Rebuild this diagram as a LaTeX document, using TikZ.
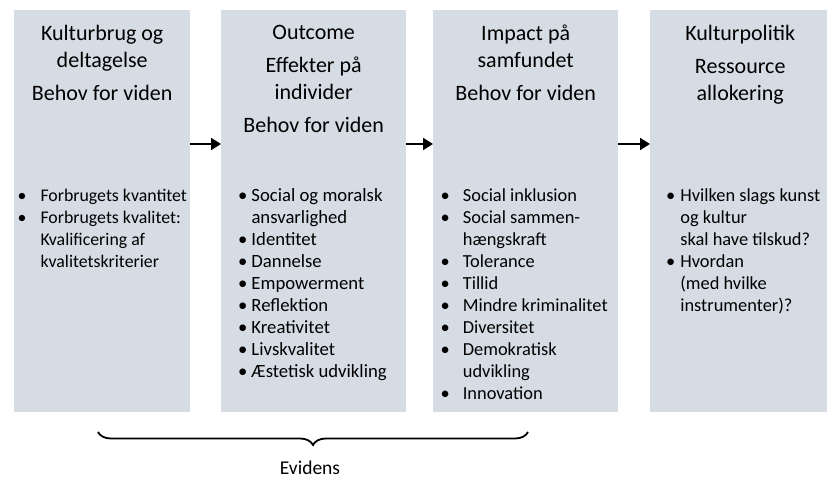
\documentclass[tikz,border=0pt]{standalone}
\usepackage{fontspec}
\setmainfont{Carlito}
\usetikzlibrary{positioning,arrows.meta,decorations.pathreplacing}

\definecolor{kassefarve}{RGB}{214,220,228}
\newcommand{\pkt}{\textbullet}

\tikzset{
  kasse/.style={fill=kassefarve, minimum height=402pt, inner sep=0pt, anchor=north west},
  titel/.style={align=center, inner sep=0pt, font=\fontsize{22}{27}\selectfont},
  punkter/.style={inner sep=0pt, font=\fontsize{18.4}{22}\selectfont},
  pil/.style={line width=2pt, -{Triangle[length=10pt,width=12pt]}}
}

\begin{document}
\begin{tikzpicture}[x=1pt,y=1pt]
  \useasboundingbox (0,0) rectangle (827,479);

  %% the four columns
  \node[kasse, minimum width=176pt] (brug) at (14,469) {};
  \node[kasse, minimum width=185pt] (outcome) at (221,469) {};
  \node[kasse, minimum width=185pt] (impact) at (433,469) {};
  \node[kasse, minimum width=180pt] (politik) at (650,469) {};

  %% headings
  \node[titel, below=15pt of brug.north] (brugT)
    {Kulturbrug og\\deltagelse\\[6pt]Behov for viden};
  \node[titel, below=15pt of outcome.north] (outcomeT)
    {Outcome\\[6pt]Effekter på\\individer\\[6pt]Behov for viden};
  \node[titel, below=15pt of impact.north] (impactT)
    {Impact på\\samfundet\\[6pt]Behov for viden};
  \node[titel, below=15pt of politik.north] (politikT)
    {Kulturpolitik\\[6pt]Ressource\\allokering};

  %% bullet lists
  \node[punkter, font=\fontsize{17.8}{22}\selectfont,
        below right=176pt and 3.5pt of brug.north west] (brugL) {%
    \begin{tabular}{@{}c@{\hspace{14pt}}l@{}}
      \pkt & Forbrugets kvantitet\\
      \pkt & Forbrugets kvalitet:\\
           & Kvalificering af\\
           & kvalitetskriterier
    \end{tabular}};
  \node[punkter, font=\fontsize{18.7}{22}\selectfont,
        below right=176pt and 17pt of outcome.north west] (outcomeL) {%
    \begin{tabular}{@{}c@{\hspace{4pt}}l@{}}
      \pkt & Social og moralsk\\
           & ansvarlighed\\
      \pkt & Identitet\\
      \pkt & Dannelse\\
      \pkt & Empowerment\\
      \pkt & Reflektion\\
      \pkt & Kreativitet\\
      \pkt & Livskvalitet\\
      \pkt & Æstetisk udvikling
    \end{tabular}};
  \node[punkter, below right=176pt and 7.5pt of impact.north west] (impactL) {%
    \begin{tabular}{@{}c@{\hspace{13pt}}l@{}}
      \pkt & Social inklusion\\
      \pkt & Social sammen-\\
           & hængskraft\\
      \pkt & Tolerance\\
      \pkt & Tillid\\
      \pkt & Mindre kriminalitet\\
      \pkt & Diversitet\\
      \pkt & Demokratisk\\
           & udvikling\\
      \pkt & Innovation
    \end{tabular}};
  \node[punkter, below right=176pt and 16pt of politik.north west] (politikL) {%
    \begin{tabular}{@{}c@{\hspace{5pt}}l@{}}
      \pkt & Hvilken slags kunst\\
           & og kultur\\
           & skal have tilskud?\\
      \pkt & Hvordan\\
           & (med hvilke\\
           & instrumenter)?
    \end{tabular}};

  %% arrows between the columns
  \coordinate (pilY) at (0,335);
  \draw[pil] (brug.east |- pilY) -- (outcome.west |- pilY);
  \draw[pil] (outcome.east |- pilY) -- (impact.west |- pilY);
  \draw[pil] (impact.east |- pilY) -- (politik.west |- pilY);

  %% brace under the first three columns
  \coordinate (klampeA) at (98,47);
  \coordinate (klampeB) at (528,47);
  \draw[line width=1.8pt, decorate, decoration={brace, mirror, amplitude=13pt}]
    (klampeA) -- (klampeB);
  \node[anchor=base, inner sep=0pt, font=\fontsize{19.5}{23}\selectfont] (evidens)
    at (310,5) {Evidens};
\end{tikzpicture}
\end{document}
